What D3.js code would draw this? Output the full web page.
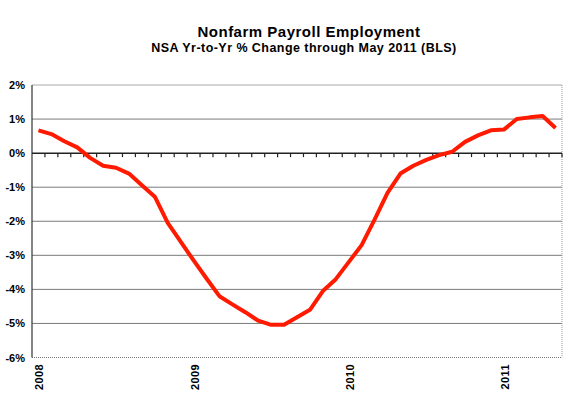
<!DOCTYPE html>
<html>
<head>
<meta charset="utf-8">
<script src="https://cdn.jsdelivr.net/npm/d3@7"></script>
<style>
  body { margin: 0; background: #fff; }
  text { font-family: Arial, "Liberation Sans", sans-serif; }
</style>
</head>
<body>
<div id="chart"></div>
<script>
// Monthly categories, Jan 2008 .. May 2011
let months = d3.timeMonth.range(new Date(2008, 0, 1), new Date(2011, 5, 1));

// NSA year-over-year % change in nonfarm payrolls
let pctChange = [
    0.67, 0.56, 0.35, 0.17, -0.14, -0.37, -0.43, -0.60, -0.94, -1.28,
    -2.05, -2.60, -3.15, -3.68, -4.20, -4.44, -4.67, -4.92, -5.04, -5.04,
    -4.82, -4.60, -4.05, -3.70, -3.20, -2.70, -1.95, -1.17, -0.60, -0.37,
    -0.20, -0.06, 0.04, 0.33, 0.52, 0.67, 0.69, 1.00, 1.05, 1.09,
    0.74
];

let yTicks = [2, 1, 0, -1, -2, -3, -4, -5, -6];
let yearLabels = ["2008", "2009", "2010", "2011"];

let width = 577,
    height = 399,
    plot = { left: 32, right: 562, top: 85, bottom: 357.5 };

let data = months.map(function (m, i) {
    return { month: m, value: pctChange[i] };
});

let svg = d3.select("#chart").append("svg")
    .attr("width", width)
    .attr("height", height);

// Scales
let x = d3.scaleBand()
    .domain(months.map(function (d) { return +d; }))
    .range([plot.left, plot.right])
    .padding(0);

let y = d3.scaleLinear()
    .domain([-6, 2])
    .range([plot.bottom, plot.top]);

let cx = function (m) { return x(+m) + x.bandwidth() / 2; };

// Titles
svg.append("text")
    .attr("x", 309)
    .attr("y", 36.5)
    .attr("text-anchor", "middle")
    .style("font-size", "15px")
    .style("font-weight", "bold")
    .style("letter-spacing", "0.5px")
    .text("Nonfarm Payroll Employment");

svg.append("text")
    .attr("x", 304)
    .attr("y", 52)
    .attr("text-anchor", "middle")
    .style("font-size", "12.5px")
    .style("font-weight", "bold")
    .style("letter-spacing", "0.45px")
    .text("NSA Yr-to-Yr % Change through May 2011 (BLS)");

// Gridlines
svg.append("g")
    .selectAll("line")
    .data(yTicks.filter(function (d) { return d !== 0; }))
    .enter().append("line")
    .attr("x1", plot.left)
    .attr("x2", plot.right)
    .attr("y1", function (d) { return y(d); })
    .attr("y2", function (d) { return y(d); })
    .attr("stroke", function (d) { return d === 2 ? "#aaa" : "#7a7a7a"; })
    .attr("stroke-width", 1)
    .attr("stroke-dasharray", function (d) { return d === -6 ? "1,1" : null; });

// Right border of plot area
svg.append("line")
    .attr("x1", plot.right).attr("x2", plot.right)
    .attr("y1", plot.top).attr("y2", plot.bottom)
    .attr("stroke", "#999")
    .attr("stroke-dasharray", "1,1");

// Y axis
svg.append("line")
    .attr("x1", plot.left).attr("x2", plot.left)
    .attr("y1", plot.top).attr("y2", plot.bottom)
    .attr("stroke", "#333")
    .attr("stroke-width", 1.2);

svg.append("g")
    .selectAll("text")
    .data(yTicks)
    .enter().append("text")
    .attr("x", 25)
    .attr("y", function (d) { return y(d) + 4; })
    .attr("text-anchor", "end")
    .style("font-size", "11px")
    .style("font-weight", "bold")
    .text(function (d) { return d + "%"; });

// X axis on the zero line, ticks between categories
svg.append("line")
    .attr("x1", plot.left).attr("x2", plot.right)
    .attr("y1", y(0)).attr("y2", y(0))
    .attr("stroke", "#222")
    .attr("stroke-width", 1.5);

svg.append("g")
    .selectAll("line")
    .data(months)
    .enter().append("line")
    .attr("x1", function (d) { return x(+d) + x.bandwidth(); })
    .attr("x2", function (d) { return x(+d) + x.bandwidth(); })
    .attr("y1", y(0))
    .attr("y2", y(0) + 4)
    .attr("stroke", "#222")
    .attr("stroke-width", 1.2);

// Year labels, rotated, at January of each year
svg.append("g")
    .selectAll("text")
    .data(yearLabels)
    .enter().append("text")
    .attr("transform", function (d) {
        let m = months.find(function (mm) {
            return mm.getFullYear() === +d && mm.getMonth() === 0;
        });
        return "translate(" + (cx(m) + 5) + "," + 364 + ") rotate(-90)";
    })
    .attr("text-anchor", "end")
    .style("font-size", "11px")
    .style("font-weight", "bold")
    .style("letter-spacing", "0.4px")
    .text(function (d) { return d; });

// The line
let line = d3.line()
    .x(function (d) { return cx(d.month); })
    .y(function (d) { return y(d.value); });

svg.append("path")
    .datum(data)
    .attr("d", line)
    .attr("fill", "none")
    .attr("stroke", "#ff1a00")
    .attr("stroke-width", 4)
    .attr("stroke-linejoin", "round")
    .attr("stroke-linecap", "butt");
</script>
</body>
</html>
